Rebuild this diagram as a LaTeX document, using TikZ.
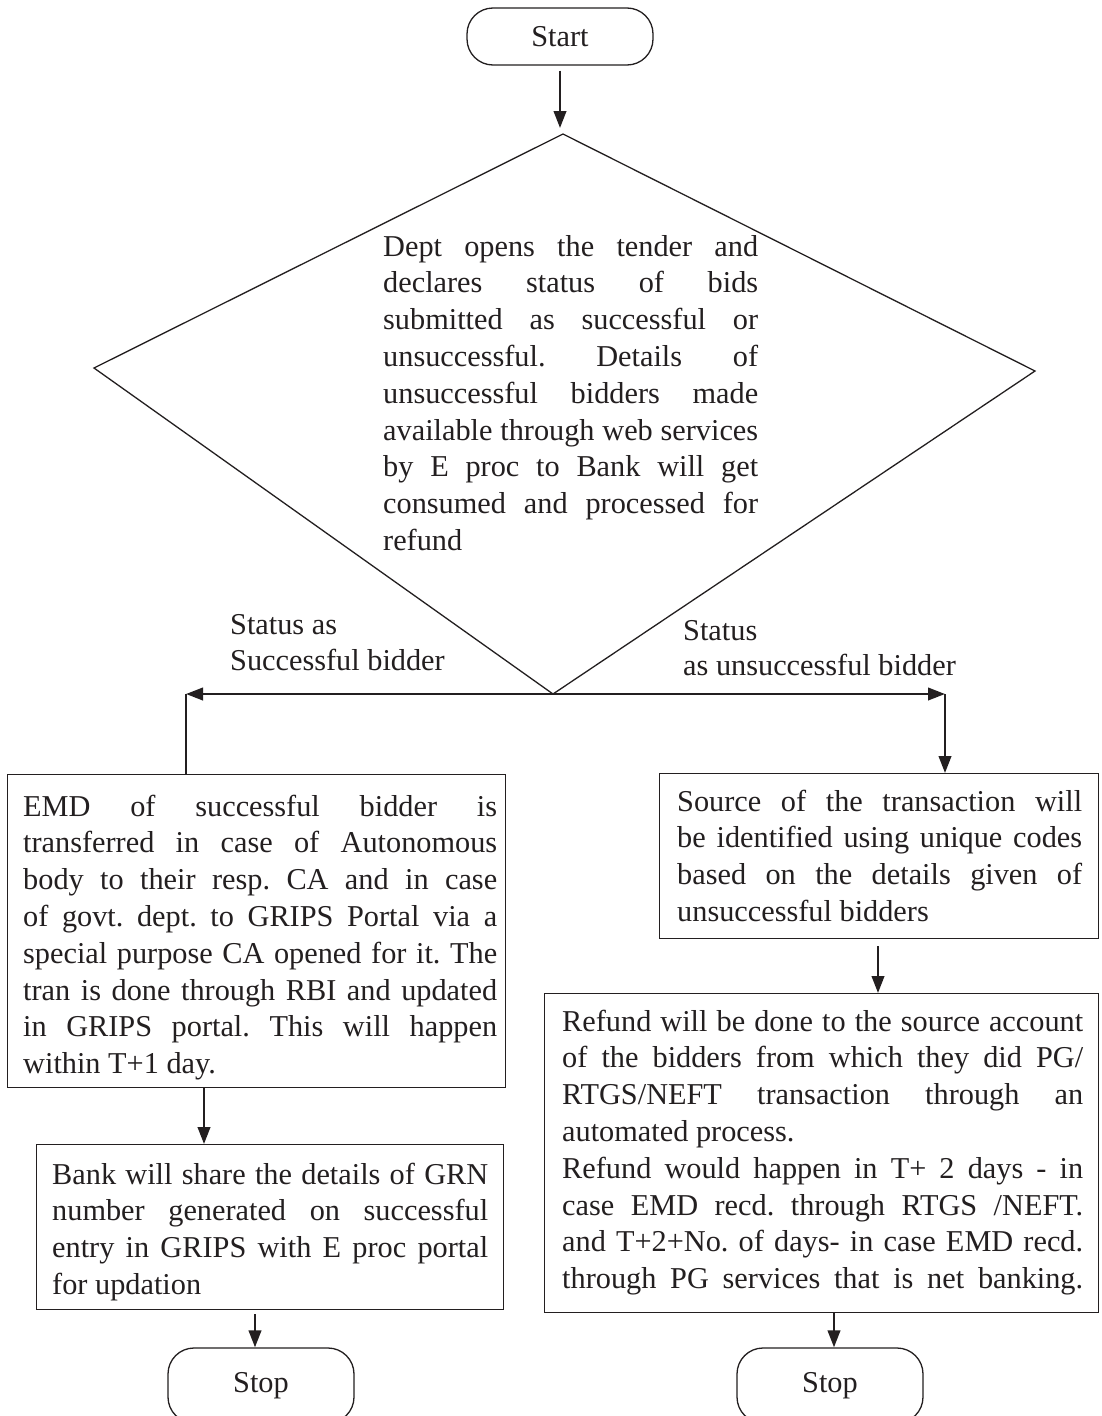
\documentclass[tikz,border=0pt]{standalone}
\usepackage{fontspec}
\setmainfont{Liberation Serif}
\usetikzlibrary{arrows.meta}
\definecolor{ink}{HTML}{231F20}
\newcommand{\JL}[1]{\hbox to \hsize{#1}}
\newcommand{\TB}[2]{\vbox{\hsize=#1\relax #2}}
\frenchspacing
\begin{document}
\begin{tikzpicture}[x=1pt,y=-1pt,
  every node/.style={font=\fontsize{30.3}{36.8}\selectfont\frenchspacing, text=ink},
  frame/.style={draw=ink, line width=1.3pt, inner sep=0pt, anchor=north west},
  term/.style={draw=ink, line width=1.3pt, rounded corners=26pt, minimum width=186pt, inner sep=0pt},
  txt/.style={anchor=north west, inner sep=0pt},
  lbl/.style={anchor=base west, inner sep=0pt},
  arr/.style={draw=ink, line width=2.4pt, -{Triangle[length=17pt,width=12.5pt]}},
  ln/.style={draw=ink, line width=2.4pt}]
\useasboundingbox (0,0) rectangle (1101,1416);
\clip (0,0) rectangle (1101,1416);
\fill[white] (0,0) rectangle (1101,1416);

% terminals
\node[term, minimum height=57pt] (start) at (560,36.5) {\raisebox{-3pt}{Start}};
\node[term, minimum height=75pt] (stop1) at (261,1385.5) {Stop};
\node[term, minimum height=75pt] (stop2) at (830,1385.5) {Stop};

% decision
\coordinate (dT) at (563,134);
\coordinate (dR) at (1035,371);
\coordinate (dB) at (553,694);
\coordinate (dL) at (94,368);
\draw[draw=ink, line width=1.3pt] (dT) -- (dR) -- (dB) -- (dL) -- cycle;
\node[txt] (t0) at (383,230.2) {\TB{375pt}{%
\JL{\strut Dept opens the tender and}
\JL{declares status of bids}
\JL{submitted as successful or}
\JL{unsuccessful. Details of}
\JL{unsuccessful bidders made}
\JL{available through web services}
\JL{by E proc to Bank will get}
\JL{consumed and processed for}
\hbox{refund}}};

% boxes
\node[frame, minimum width=498pt, minimum height=313pt] (b1) at (7,774) {};
\node[frame, minimum width=467pt, minimum height=165pt] (b2) at (36,1144) {};
\node[frame, minimum width=439pt, minimum height=165pt] (bA) at (659,773) {};
\node[frame, minimum width=554pt, minimum height=319pt] (bB) at (544,993) {};

\node[txt] (t1) at (23,790.2) {\TB{474pt}{%
\JL{\strut EMD of successful bidder is}
\JL{transferred in case of Autonomous}
\JL{body to their resp. CA and in case}
\JL{of govt. dept. to GRIPS Portal via a}
\JL{special purpose CA opened for it. The}
\JL{tran is done through RBI and updated}
\JL{in GRIPS portal. This will happen}
\hbox{within T+1 day.}}};

\node[txt] (t2) at (52,1158.2) {\TB{436pt}{%
\JL{\strut Bank will share the details of GRN}
\JL{number generated on successful}
\JL{entry in GRIPS with E proc portal}
\hbox{for updation}}};

\node[txt] (tA) at (677,785.2) {\TB{405pt}{%
\JL{\strut Source of the transaction will}
\JL{be identified using unique codes}
\JL{based on the details given of}
\hbox{unsuccessful bidders}}};

\node[txt] (tB) at (562,1005.2) {\TB{521pt}{%
\JL{\strut Refund will be done to the source account}
\JL{of the bidders from which they did PG/}
\JL{RTGS/NEFT transaction through an}
\hbox{automated process.}
\JL{Refund would happen in T+ 2 days - in}
\JL{case EMD recd. through RTGS /NEFT.}
\JL{and T+2+No. of days- in case EMD recd.}
\JL{through PG services that is net banking.}}};

% branch labels
\node[lbl] (l1) at (230,634) {Status as};
\node[lbl] (l2) at (230,670) {Successful bidder};
\node[lbl] (l3) at (683,640) {Status};
\node[lbl] (l4) at (683,675) {as unsuccessful bidder};

% connectors
\coordinate (cL) at (186,694);
\coordinate (cR) at (945,694);
\coordinate (x1) at (204,0);
\coordinate (x2) at (255,0);
\coordinate (x3) at (878,0);
\coordinate (x4) at (834,0);
\draw[arr, shorten <=5pt, shorten >=6pt] (start.south) -- (start.south |- dT);
\draw[arr] (dB) -- (cL);
\draw[ln] (cL) -- (cL |- b1.north);
\draw[arr] (dB) -- (cR);
\draw[arr] (cR) -- (cR |- bA.north);
\draw[arr] (x1 |- b1.south) -- (x1 |- b2.north);
\draw[arr, shorten <=4pt] (x2 |- b2.south) -- (x2 |- stop1.north);
\draw[arr, shorten <=7pt] (x3 |- bA.south) -- (x3 |- bB.north);
\draw[arr] (x4 |- bB.south) -- (x4 |- stop2.north);
\end{tikzpicture}
\end{document}
